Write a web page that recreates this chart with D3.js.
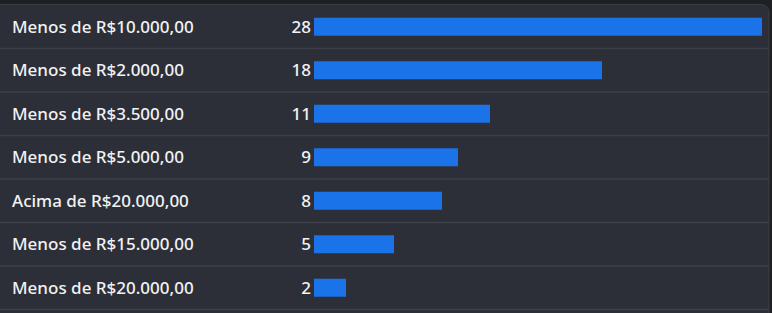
<!DOCTYPE html>
<html>
<head>
<meta charset="utf-8">
<script src="https://cdn.jsdelivr.net/npm/d3@7"></script>
<style>
  body { margin: 0; background: #1f2024; }
</style>
</head>
<body>
<div id="chart"></div>
<script>
const width = 772;
const height = 313;
const margin = { top: 5, left: 314, right: 10 };

const categories = [
  "Menos de R$10.000,00",
  "Menos de R$2.000,00",
  "Menos de R$3.500,00",
  "Menos de R$5.000,00",
  "Acima de R$20.000,00",
  "Menos de R$15.000,00",
  "Menos de R$20.000,00"
];
const values = [28, 18, 11, 9, 8, 5, 2];

const rowHeight = 43.5;
const fontFamily = "'Noto Sans', sans-serif";

const svg = d3.select("#chart")
  .append("svg")
  .attr("width", width)
  .attr("height", height);

// panel
svg.append("rect")
  .attr("x", -10)
  .attr("y", 4.5)
  .attr("width", 779)
  .attr("height", 330)
  .attr("rx", 8)
  .attr("fill", "#2c2f38")
  .attr("stroke", "#3a3d46")
  .attr("stroke-width", 1);

const yScale = d3.scaleBand()
  .domain(categories)
  .range([margin.top, margin.top + rowHeight * categories.length]);

const xScale = d3.scaleLinear()
  .domain([0, d3.max(values)])
  .range([margin.left, width - margin.right]);

const rows = svg.selectAll("g.row")
  .data(categories)
  .enter()
  .append("g")
  .attr("class", "row")
  .attr("transform", d => `translate(0,${yScale(d)})`);

rows.append("line")
  .attr("x1", 0)
  .attr("x2", 769)
  .attr("y1", rowHeight)
  .attr("y2", rowHeight)
  .attr("stroke", "#3c3f48")
  .attr("stroke-width", 1.5);

rows.append("text")
  .attr("x", 12)
  .attr("y", rowHeight / 2)
  .attr("dy", "0.35em")
  .attr("fill", "#f2f2f2")
  .style("font-family", fontFamily)
  .style("font-size", "17px")
  .style("font-weight", 500)
  .text(d => d);

rows.append("rect")
  .attr("x", xScale(0))
  .attr("y", rowHeight / 2 - 9)
  .attr("height", 18)
  .attr("width", (d, i) => xScale(values[i]) - xScale(0))
  .attr("fill", "#1a73e8");

rows.append("text")
  .attr("x", xScale(0) - 3)
  .attr("y", rowHeight / 2)
  .attr("dy", "0.35em")
  .attr("text-anchor", "end")
  .attr("fill", "#f2f2f2")
  .style("font-family", fontFamily)
  .style("font-size", "17px")
  .style("font-weight", 500)
  .text((d, i) => values[i]);
</script>
</body>
</html>
